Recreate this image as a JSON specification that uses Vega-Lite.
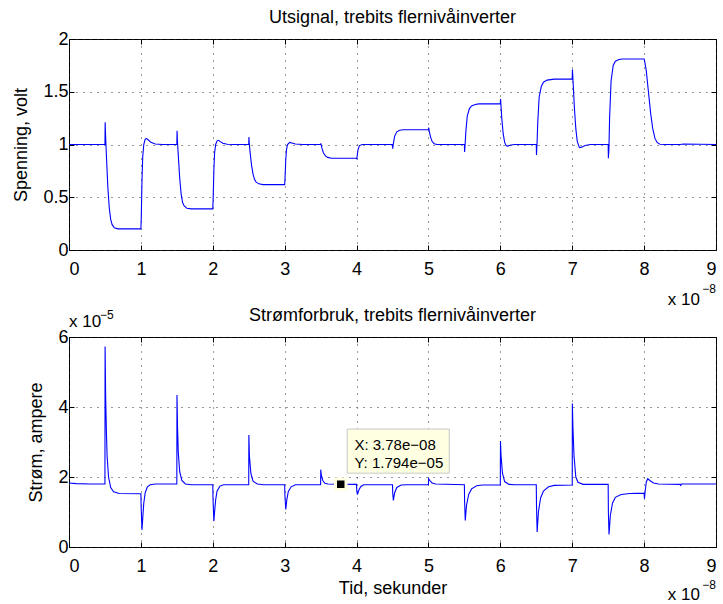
{
  "$schema": "https://vega.github.io/schema/vega-lite/v6.json",
  "padding": {"left": 12, "top": 8, "right": 0, "bottom": 0},
  "background": "#ffffff",
  "spacing": 87,
  "bounds": "flush",
  "config": {
    "font": "Liberation Sans",
    "view": {"stroke": "#000000", "strokeWidth": 1},
    "axis": {
      "labelFont": "Liberation Sans", "labelFontSize": 18, "labelColor": "#000000",
      "titleFont": "Liberation Sans", "titleFontSize": 18, "titleFontWeight": "normal", "titleColor": "#000000",
      "domain": false, "tickColor": "#000000", "tickSize": -5, "tickWidth": 1,
      "grid": true, "gridColor": "#333333", "gridDash": [1, 6], "gridOpacity": 1, "gridWidth": 1
    },
    "axisX": {"labelPadding": 15},
    "axisY": {"labelPadding": 6},
    "title": {"font": "Liberation Sans", "fontSize": 18, "fontWeight": "normal", "color": "#000000", "frame": "group", "offset": 3}
  },
  "vconcat": [
    {
      "width": 647, "height": 211,
      "title": {"text": "Utsignal, trebits flernivåinverter"},
      "data": {"values": [
        {"t": 0, "v": 1.0}, {"t": 0.5e-8, "v": 1.0}, {"t": 0.503e-8, "v": 1.21}, {"t": 0.507e-8, "v": 1.12},
        {"t": 0.52e-8, "v": 0.9}, {"t": 0.54e-8, "v": 0.6}, {"t": 0.56e-8, "v": 0.4}, {"t": 0.58e-8, "v": 0.29},
        {"t": 0.6e-8, "v": 0.24}, {"t": 0.63e-8, "v": 0.21}, {"t": 0.68e-8, "v": 0.2}, {"t": 1.0e-8, "v": 0.2},
        {"t": 1.005e-8, "v": 0.3}, {"t": 1.015e-8, "v": 0.65}, {"t": 1.025e-8, "v": 0.88}, {"t": 1.04e-8, "v": 1.0},
        {"t": 1.06e-8, "v": 1.05}, {"t": 1.08e-8, "v": 1.056}, {"t": 1.1e-8, "v": 1.045}, {"t": 1.14e-8, "v": 1.02},
        {"t": 1.2e-8, "v": 1.005}, {"t": 1.3e-8, "v": 1.0}, {"t": 1.5e-8, "v": 1.0}, {"t": 1.503e-8, "v": 1.13},
        {"t": 1.507e-8, "v": 1.05}, {"t": 1.52e-8, "v": 0.9}, {"t": 1.54e-8, "v": 0.68}, {"t": 1.56e-8, "v": 0.53},
        {"t": 1.58e-8, "v": 0.45}, {"t": 1.6e-8, "v": 0.42}, {"t": 1.64e-8, "v": 0.395}, {"t": 1.7e-8, "v": 0.39},
        {"t": 2.0e-8, "v": 0.39}, {"t": 2.005e-8, "v": 0.48}, {"t": 2.015e-8, "v": 0.75}, {"t": 2.025e-8, "v": 0.92},
        {"t": 2.04e-8, "v": 1.0}, {"t": 2.06e-8, "v": 1.035}, {"t": 2.08e-8, "v": 1.04}, {"t": 2.1e-8, "v": 1.03},
        {"t": 2.14e-8, "v": 1.012}, {"t": 2.2e-8, "v": 1.002}, {"t": 2.3e-8, "v": 1.0}, {"t": 2.5e-8, "v": 1.0},
        {"t": 2.503e-8, "v": 1.07}, {"t": 2.507e-8, "v": 1.02}, {"t": 2.52e-8, "v": 0.92}, {"t": 2.54e-8, "v": 0.8},
        {"t": 2.56e-8, "v": 0.72}, {"t": 2.58e-8, "v": 0.67}, {"t": 2.6e-8, "v": 0.645}, {"t": 2.64e-8, "v": 0.627},
        {"t": 2.7e-8, "v": 0.62}, {"t": 3.0e-8, "v": 0.62}, {"t": 3.005e-8, "v": 0.68}, {"t": 3.015e-8, "v": 0.85},
        {"t": 3.025e-8, "v": 0.95}, {"t": 3.04e-8, "v": 1.0}, {"t": 3.07e-8, "v": 1.02}, {"t": 3.1e-8, "v": 1.015},
        {"t": 3.15e-8, "v": 1.005}, {"t": 3.25e-8, "v": 1.0}, {"t": 3.5e-8, "v": 1.0}, {"t": 3.503e-8, "v": 1.01},
        {"t": 3.52e-8, "v": 0.96}, {"t": 3.54e-8, "v": 0.92}, {"t": 3.57e-8, "v": 0.89}, {"t": 3.6e-8, "v": 0.878},
        {"t": 3.65e-8, "v": 0.87}, {"t": 4.0e-8, "v": 0.87}, {"t": 4.003e-8, "v": 0.86}, {"t": 4.02e-8, "v": 0.95},
        {"t": 4.04e-8, "v": 0.99}, {"t": 4.08e-8, "v": 1.0}, {"t": 4.5e-8, "v": 1.0}, {"t": 4.503e-8, "v": 0.96},
        {"t": 4.51e-8, "v": 1.0}, {"t": 4.53e-8, "v": 1.08}, {"t": 4.56e-8, "v": 1.12}, {"t": 4.6e-8, "v": 1.135},
        {"t": 4.65e-8, "v": 1.14}, {"t": 5.0e-8, "v": 1.14}, {"t": 5.003e-8, "v": 1.16}, {"t": 5.01e-8, "v": 1.13},
        {"t": 5.03e-8, "v": 1.07}, {"t": 5.05e-8, "v": 1.03}, {"t": 5.08e-8, "v": 1.008}, {"t": 5.12e-8, "v": 1.0},
        {"t": 5.5e-8, "v": 1.0}, {"t": 5.503e-8, "v": 0.93}, {"t": 5.51e-8, "v": 1.0}, {"t": 5.52e-8, "v": 1.12},
        {"t": 5.54e-8, "v": 1.27}, {"t": 5.57e-8, "v": 1.34}, {"t": 5.6e-8, "v": 1.365}, {"t": 5.65e-8, "v": 1.38},
        {"t": 5.7e-8, "v": 1.385}, {"t": 6.0e-8, "v": 1.385}, {"t": 6.003e-8, "v": 1.43}, {"t": 6.01e-8, "v": 1.36},
        {"t": 6.02e-8, "v": 1.25}, {"t": 6.04e-8, "v": 1.1}, {"t": 6.06e-8, "v": 1.02}, {"t": 6.08e-8, "v": 0.99},
        {"t": 6.1e-8, "v": 0.985}, {"t": 6.15e-8, "v": 0.995}, {"t": 6.2e-8, "v": 1.0}, {"t": 6.5e-8, "v": 1.0},
        {"t": 6.503e-8, "v": 0.9}, {"t": 6.51e-8, "v": 1.0}, {"t": 6.52e-8, "v": 1.2}, {"t": 6.54e-8, "v": 1.45},
        {"t": 6.57e-8, "v": 1.55}, {"t": 6.6e-8, "v": 1.59}, {"t": 6.65e-8, "v": 1.61}, {"t": 6.75e-8, "v": 1.62},
        {"t": 7.0e-8, "v": 1.62}, {"t": 7.003e-8, "v": 1.71}, {"t": 7.01e-8, "v": 1.62}, {"t": 7.03e-8, "v": 1.35},
        {"t": 7.05e-8, "v": 1.15}, {"t": 7.07e-8, "v": 1.03}, {"t": 7.1e-8, "v": 0.97}, {"t": 7.13e-8, "v": 0.975},
        {"t": 7.18e-8, "v": 0.99}, {"t": 7.25e-8, "v": 1.0}, {"t": 7.5e-8, "v": 1.0}, {"t": 7.503e-8, "v": 0.87},
        {"t": 7.51e-8, "v": 0.95}, {"t": 7.52e-8, "v": 1.25}, {"t": 7.54e-8, "v": 1.6}, {"t": 7.57e-8, "v": 1.75},
        {"t": 7.6e-8, "v": 1.79}, {"t": 7.65e-8, "v": 1.805}, {"t": 7.7e-8, "v": 1.81}, {"t": 8.0e-8, "v": 1.81},
        {"t": 8.005e-8, "v": 1.8}, {"t": 8.03e-8, "v": 1.7}, {"t": 8.06e-8, "v": 1.5}, {"t": 8.09e-8, "v": 1.3},
        {"t": 8.12e-8, "v": 1.15}, {"t": 8.15e-8, "v": 1.06}, {"t": 8.18e-8, "v": 1.02}, {"t": 8.22e-8, "v": 1.003},
        {"t": 8.3e-8, "v": 1.0}, {"t": 8.5e-8, "v": 1.0}, {"t": 8.55e-8, "v": 1.005}, {"t": 9.0e-8, "v": 1.0}
      ]},
      "layer": [
        {
          "mark": {"type": "line", "color": "#0000ff", "strokeWidth": 1.1},
          "encoding": {
            "x": {"field": "t", "type": "quantitative", "scale": {"domain": [0, 9e-8], "nice": false, "zero": false},
                  "axis": {"values": [0, 1e-8, 2e-8, 3e-8, 4e-8, 5e-8, 6e-8, 7e-8, 8e-8, 9e-8], "labelExpr": "format(datum.value*1e8, '~g')", "title": null}},
            "y": {"field": "v", "type": "quantitative", "scale": {"domain": [0, 2], "nice": false},
                  "axis": {"values": [0, 0.5, 1, 1.5, 2], "format": "~g", "title": "Spenning, volt", "titlePadding": 12}}
          }
        },
        {
          "data": {"values": [{}]},
          "mark": {"type": "rule", "opacity": 0},
          "encoding": {
            "x": {"datum": 0, "type": "quantitative", "axis": {"orient": "top", "labels": false, "grid": false, "title": null, "values": [0, 1e-8, 2e-8, 3e-8, 4e-8, 5e-8, 6e-8, 7e-8, 8e-8, 9e-8]}},
            "y": {"datum": 0, "type": "quantitative", "axis": {"orient": "right", "labels": false, "grid": false, "title": null, "values": [0, 0.5, 1, 1.5, 2]}}
          }
        },
        {
          "data": {"values": [{}]},
          "mark": {"type": "text", "text": "x 10", "align": "right", "baseline": "alphabetic", "dx": -16, "dy": 55, "fontSize": 17, "color": "#000000"},
          "encoding": {"x": {"datum": 9e-8, "type": "quantitative", "axis": null}, "y": {"datum": 0, "type": "quantitative", "axis": null}}
        },
        {
          "data": {"values": [{}]},
          "mark": {"type": "text", "text": "−8", "align": "right", "baseline": "alphabetic", "dx": 0, "dy": 43, "fontSize": 12, "color": "#000000"},
          "encoding": {"x": {"datum": 9e-8, "type": "quantitative", "axis": null}, "y": {"datum": 0, "type": "quantitative", "axis": null}}
        },
        {
          "data": {"values": [{}]},
          "mark": {"type": "text", "text": "x 10", "align": "left", "baseline": "alphabetic", "dx": 0, "dy": 77, "fontSize": 17, "color": "#000000"},
          "encoding": {"x": {"datum": 0, "type": "quantitative", "axis": null}, "y": {"datum": 0, "type": "quantitative", "axis": null}}
        },
        {
          "data": {"values": [{}]},
          "mark": {"type": "text", "text": "−5", "align": "left", "baseline": "alphabetic", "dx": 31, "dy": 69, "fontSize": 12, "color": "#000000"},
          "encoding": {"x": {"datum": 0, "type": "quantitative", "axis": null}, "y": {"datum": 0, "type": "quantitative", "axis": null}}
        }
      ],
      "resolve": {"axis": {"x": "independent", "y": "independent"}}
    },
    {
      "width": 647, "height": 210,
      "title": {"text": "Strømforbruk, trebits flernivåinverter"},
      "data": {"values": [
        {"t": 0, "i": 1.83e-5}, {"t": 0.1e-8, "i": 1.81e-5}, {"t": 0.3e-8, "i": 1.8e-5}, {"t": 0.5e-8, "i": 1.8e-5},
        {"t": 0.502e-8, "i": 5.73e-5}, {"t": 0.51e-8, "i": 4.3e-5}, {"t": 0.52e-8, "i": 3.3e-5}, {"t": 0.53e-8, "i": 2.6e-5},
        {"t": 0.55e-8, "i": 2.0e-5}, {"t": 0.58e-8, "i": 1.7e-5}, {"t": 0.62e-8, "i": 1.58e-5}, {"t": 0.7e-8, "i": 1.53e-5},
        {"t": 1.0e-8, "i": 1.52e-5}, {"t": 1.003e-8, "i": 1.2e-5}, {"t": 1.015e-8, "i": 0.49e-5}, {"t": 1.025e-8, "i": 0.8e-5},
        {"t": 1.04e-8, "i": 1.25e-5}, {"t": 1.06e-8, "i": 1.55e-5}, {"t": 1.09e-8, "i": 1.72e-5}, {"t": 1.13e-8, "i": 1.78e-5},
        {"t": 1.2e-8, "i": 1.8e-5}, {"t": 1.5e-8, "i": 1.8e-5}, {"t": 1.502e-8, "i": 4.34e-5}, {"t": 1.51e-8, "i": 3.4e-5},
        {"t": 1.52e-8, "i": 2.7e-5}, {"t": 1.54e-8, "i": 2.15e-5}, {"t": 1.57e-8, "i": 1.9e-5}, {"t": 1.62e-8, "i": 1.8e-5},
        {"t": 1.7e-8, "i": 1.78e-5}, {"t": 2.0e-8, "i": 1.78e-5}, {"t": 2.003e-8, "i": 1.4e-5}, {"t": 2.015e-8, "i": 0.74e-5},
        {"t": 2.025e-8, "i": 1.0e-5}, {"t": 2.04e-8, "i": 1.35e-5}, {"t": 2.06e-8, "i": 1.6e-5}, {"t": 2.1e-8, "i": 1.74e-5},
        {"t": 2.15e-8, "i": 1.78e-5}, {"t": 2.5e-8, "i": 1.78e-5}, {"t": 2.502e-8, "i": 3.2e-5}, {"t": 2.51e-8, "i": 2.6e-5},
        {"t": 2.53e-8, "i": 2.1e-5}, {"t": 2.56e-8, "i": 1.88e-5}, {"t": 2.62e-8, "i": 1.8e-5}, {"t": 2.7e-8, "i": 1.78e-5},
        {"t": 3.0e-8, "i": 1.78e-5}, {"t": 3.003e-8, "i": 1.5e-5}, {"t": 3.015e-8, "i": 1.07e-5}, {"t": 3.03e-8, "i": 1.35e-5},
        {"t": 3.05e-8, "i": 1.58e-5}, {"t": 3.09e-8, "i": 1.72e-5}, {"t": 3.15e-8, "i": 1.78e-5}, {"t": 3.5e-8, "i": 1.78e-5},
        {"t": 3.502e-8, "i": 2.21e-5}, {"t": 3.51e-8, "i": 2.05e-5}, {"t": 3.53e-8, "i": 1.9e-5}, {"t": 3.56e-8, "i": 1.82e-5},
        {"t": 3.6e-8, "i": 1.8e-5}, {"t": 3.78e-8, "i": 1.794e-5}, {"t": 4.0e-8, "i": 1.79e-5}, {"t": 4.003e-8, "i": 1.6e-5},
        {"t": 4.012e-8, "i": 1.5e-5}, {"t": 4.03e-8, "i": 1.62e-5}, {"t": 4.06e-8, "i": 1.73e-5}, {"t": 4.1e-8, "i": 1.78e-5},
        {"t": 4.5e-8, "i": 1.78e-5}, {"t": 4.503e-8, "i": 1.55e-5}, {"t": 4.512e-8, "i": 1.33e-5}, {"t": 4.53e-8, "i": 1.55e-5},
        {"t": 4.56e-8, "i": 1.7e-5}, {"t": 4.62e-8, "i": 1.77e-5}, {"t": 4.7e-8, "i": 1.78e-5}, {"t": 5.0e-8, "i": 1.78e-5},
        {"t": 5.003e-8, "i": 1.95e-5}, {"t": 5.02e-8, "i": 1.9e-5}, {"t": 5.05e-8, "i": 1.83e-5}, {"t": 5.1e-8, "i": 1.8e-5},
        {"t": 5.5e-8, "i": 1.78e-5}, {"t": 5.503e-8, "i": 1.3e-5}, {"t": 5.512e-8, "i": 0.76e-5}, {"t": 5.53e-8, "i": 1.2e-5},
        {"t": 5.56e-8, "i": 1.5e-5}, {"t": 5.6e-8, "i": 1.66e-5}, {"t": 5.67e-8, "i": 1.75e-5}, {"t": 5.75e-8, "i": 1.77e-5},
        {"t": 6.0e-8, "i": 1.77e-5}, {"t": 6.002e-8, "i": 3.03e-5}, {"t": 6.01e-8, "i": 2.6e-5}, {"t": 6.03e-8, "i": 2.1e-5},
        {"t": 6.06e-8, "i": 1.87e-5}, {"t": 6.12e-8, "i": 1.79e-5}, {"t": 6.2e-8, "i": 1.78e-5}, {"t": 6.5e-8, "i": 1.78e-5},
        {"t": 6.503e-8, "i": 1.2e-5}, {"t": 6.512e-8, "i": 0.43e-5}, {"t": 6.53e-8, "i": 1.0e-5}, {"t": 6.56e-8, "i": 1.4e-5},
        {"t": 6.6e-8, "i": 1.6e-5}, {"t": 6.67e-8, "i": 1.72e-5}, {"t": 6.75e-8, "i": 1.76e-5}, {"t": 7.0e-8, "i": 1.77e-5},
        {"t": 7.002e-8, "i": 4.1e-5}, {"t": 7.01e-8, "i": 3.4e-5}, {"t": 7.025e-8, "i": 2.6e-5}, {"t": 7.05e-8, "i": 2.0e-5},
        {"t": 7.08e-8, "i": 1.85e-5}, {"t": 7.15e-8, "i": 1.79e-5}, {"t": 7.5e-8, "i": 1.79e-5}, {"t": 7.503e-8, "i": 1.0e-5},
        {"t": 7.512e-8, "i": 0.36e-5}, {"t": 7.53e-8, "i": 0.9e-5}, {"t": 7.56e-8, "i": 1.25e-5}, {"t": 7.6e-8, "i": 1.42e-5},
        {"t": 7.68e-8, "i": 1.5e-5}, {"t": 7.8e-8, "i": 1.53e-5}, {"t": 8.0e-8, "i": 1.54e-5}, {"t": 8.005e-8, "i": 1.38e-5},
        {"t": 8.015e-8, "i": 1.6e-5}, {"t": 8.03e-8, "i": 1.85e-5}, {"t": 8.05e-8, "i": 1.95e-5}, {"t": 8.08e-8, "i": 1.9e-5},
        {"t": 8.13e-8, "i": 1.83e-5}, {"t": 8.2e-8, "i": 1.8e-5}, {"t": 8.5e-8, "i": 1.79e-5}, {"t": 8.51e-8, "i": 1.76e-5},
        {"t": 8.52e-8, "i": 1.8e-5}, {"t": 9.0e-8, "i": 1.8e-5}
      ]},
      "layer": [
        {
          "mark": {"type": "line", "color": "#0000ff", "strokeWidth": 1.1},
          "encoding": {
            "x": {"field": "t", "type": "quantitative", "scale": {"domain": [0, 9e-8], "nice": false, "zero": false},
                  "axis": {"values": [0, 1e-8, 2e-8, 3e-8, 4e-8, 5e-8, 6e-8, 7e-8, 8e-8, 9e-8], "labelExpr": "format(datum.value*1e8, '~g')", "title": "Tid, sekunder", "titlePadding": 4}},
            "y": {"field": "i", "type": "quantitative", "scale": {"domain": [0, 6e-5], "nice": false},
                  "axis": {"values": [0, 2e-5, 4e-5, 6e-5], "labelExpr": "format(datum.value*1e5, '~g')", "title": "Strøm, ampere", "titlePadding": 12}}
          }
        },
        {
          "data": {"values": [{}]},
          "mark": {"type": "rule", "opacity": 0},
          "encoding": {
            "x": {"datum": 0, "type": "quantitative", "axis": {"orient": "top", "labels": false, "grid": false, "title": null, "values": [0, 1e-8, 2e-8, 3e-8, 4e-8, 5e-8, 6e-8, 7e-8, 8e-8, 9e-8]}},
            "y": {"datum": 0, "type": "quantitative", "axis": {"orient": "right", "labels": false, "grid": false, "title": null, "values": [0, 2e-5, 4e-5, 6e-5]}}
          }
        },
        {
          "data": {"values": [{}]},
          "mark": {"type": "rect", "fill": "#ffffe1", "stroke": "#c8c8c8", "strokeWidth": 1},
          "encoding": {
            "x": {"datum": 3.87e-8, "type": "quantitative", "axis": null}, "x2": {"datum": 5.29e-8},
            "y": {"datum": 3.37e-5, "type": "quantitative", "axis": null}, "y2": {"datum": 2.11e-5}
          }
        },
        {
          "data": {"values": [{"label": "X: 3.78e−08", "lx": 3.97e-8, "ly": 2.77e-5}, {"label": "Y: 1.794e−05", "lx": 3.97e-8, "ly": 2.25e-5}]},
          "mark": {"type": "text", "align": "left", "baseline": "alphabetic", "fontSize": 15, "color": "#000000"},
          "encoding": {
            "x": {"field": "lx", "type": "quantitative", "axis": null},
            "y": {"field": "ly", "type": "quantitative", "axis": null},
            "text": {"field": "label"}
          }
        },
        {
          "data": {"values": [{"t": 3.78e-8, "i": 1.794e-5}]},
          "mark": {"type": "point", "shape": "square", "filled": true, "size": 110, "fill": "#000000", "stroke": "#ffffe1", "strokeWidth": 3, "opacity": 1},
          "encoding": {
            "x": {"field": "t", "type": "quantitative", "axis": null},
            "y": {"field": "i", "type": "quantitative", "axis": null}
          }
        },
        {
          "data": {"values": [{}]},
          "mark": {"type": "text", "text": "x 10", "align": "right", "baseline": "alphabetic", "dx": -16, "dy": 53, "fontSize": 17, "color": "#000000"},
          "encoding": {"x": {"datum": 9e-8, "type": "quantitative", "axis": null}, "y": {"datum": 0, "type": "quantitative", "axis": null}}
        },
        {
          "data": {"values": [{}]},
          "mark": {"type": "text", "text": "−8", "align": "right", "baseline": "alphabetic", "dx": 0, "dy": 42, "fontSize": 12, "color": "#000000"},
          "encoding": {"x": {"datum": 9e-8, "type": "quantitative", "axis": null}, "y": {"datum": 0, "type": "quantitative", "axis": null}}
        }
      ],
      "resolve": {"axis": {"x": "independent", "y": "independent"}}
    }
  ]
}
